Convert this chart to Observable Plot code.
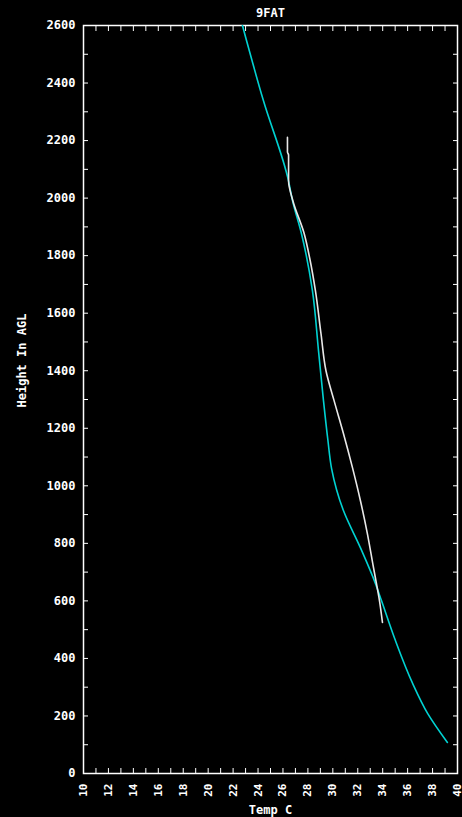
<!DOCTYPE html>
<html>
<head>
<meta charset="utf-8">
<script src="https://cdn.jsdelivr.net/npm/d3@7"></script>
<script src="https://cdn.jsdelivr.net/npm/@observablehq/plot@0.6"></script>
<style>
  html, body { margin: 0; padding: 0; background: #000; }
  #chart { width: 462px; height: 817px; overflow: hidden; }
</style>
</head>
<body>
<div id="chart"></div>
<script>
const titleText = "9FAT";
const xLabelText = "Temp C";
const yLabelText = "Height In AGL";

// Cyan profile (temperature C, height m)
const cyanT = [22.75, 24.43, 26.44, 26.76, 27.48, 28.36, 28.85, 29.25, 29.6, 29.9, 30.85, 32.2, 33.42, 33.9, 35.02, 36.4, 37.6, 39.19];
const cyanH = [2600, 2339, 2061, 1992, 1877, 1679, 1470, 1296, 1160, 1060, 914, 786, 660, 601, 462, 313, 209, 108];

// White profile
const whiteT = [26.36, 26.36, 26.45, 26.45, 26.8, 27.7, 28.15, 28.6, 29.05, 29.45, 30.1, 30.85, 31.57, 32.21, 32.77, 33.26, 33.5, 33.74, 33.98];
const whiteH = [2211, 2160, 2150, 2060, 1990, 1877, 1790, 1679, 1529, 1400, 1296, 1182, 1064, 949, 834, 716, 660, 601, 525];

const xMinorTicks = d3.range(10, 41, 1);
const xLabels = d3.range(10, 41, 2);
const yMinorTicks = d3.range(0, 2601, 100);
const yLabels = d3.range(0, 2601, 200);

const cyan = cyanT.map((t, i) => ({t, h: cyanH[i]}));
const white = whiteT.map((t, i) => ({t, h: whiteH[i]}));

const font = "'DejaVu Sans Mono', monospace";

const chart = Plot.plot({
  width: 462,
  height: 817,
  marginLeft: 83,
  marginRight: 5,
  marginTop: 25,
  marginBottom: 44,
  style: {background: "#000", color: "#fff", fontFamily: font, fontSize: "12px", fontWeight: "bold"},
  x: {domain: [10, 40]},
  y: {domain: [0, 2600]},
  marks: [
    Plot.frame({stroke: "#fff", strokeWidth: 1.5}),
    Plot.axisX({anchor: "bottom", ticks: xMinorTicks, tickSize: -5, stroke: "#fff", label: null, text: null}),
    Plot.axisX({anchor: "top", ticks: xMinorTicks, tickSize: -5, stroke: "#fff", label: null, text: null}),
    Plot.axisY({anchor: "left", ticks: yMinorTicks, tickSize: -5, stroke: "#fff", label: null, text: null}),
    Plot.axisY({anchor: "right", ticks: yMinorTicks, tickSize: -5, stroke: "#fff", label: null, text: null}),
    Plot.axisY({anchor: "left", ticks: yLabels, tickFormat: d3.format("d"), tickSize: 0, tickPadding: 8, label: null, fill: "#fff"}),
    Plot.axisX({anchor: "bottom", ticks: xLabels, tickFormat: d3.format("d"), tickSize: 0, tickPadding: 10, tickRotate: -90, label: null, fill: "#fff", fontSize: 11}),
    Plot.line(cyan, {x: "t", y: "h", stroke: "#00d2d2", strokeWidth: 1.6, curve: "monotone-y", clip: true}),
    Plot.line(white, {x: "t", y: "h", stroke: "#e8e8e8", strokeWidth: 1.6, curve: "monotone-y", clip: true}),
    Plot.text([titleText], {frameAnchor: "top", dy: -17, fill: "#fff", fontSize: 12}),
    Plot.text([yLabelText], {frameAnchor: "left", dx: -61, dy: 8, rotate: -90, fill: "#fff", fontSize: 12}),
    Plot.text([xLabelText], {frameAnchor: "bottom", dy: 40, fill: "#fff", fontSize: 12})
  ]
});

document.getElementById("chart").appendChild(chart);
</script>
</body>
</html>
